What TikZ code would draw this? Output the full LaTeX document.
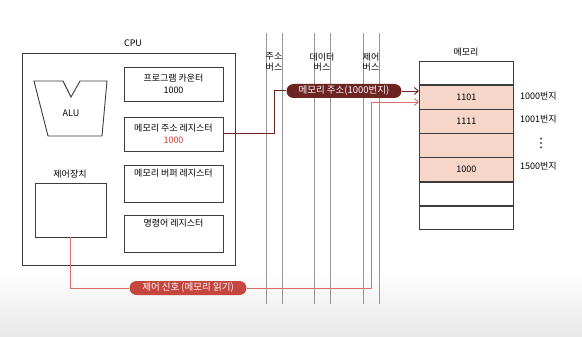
\documentclass[tikz,border=0pt]{standalone}
\usepackage{fontspec}
\setmainfont{Noto Sans CJK KR}
\newfontfamily\djv{DejaVu Sans}
\usetikzlibrary{arrows.meta}
\definecolor{boxline}{RGB}{60,60,60}
\definecolor{busgray}{RGB}{150,150,150}
\definecolor{pinkfill}{RGB}{245,214,200}
\definecolor{darkred}{RGB}{110,35,35}
\definecolor{sigred}{RGB}{196,70,62}
\definecolor{sigline}{RGB}{214,110,105}
\definecolor{numred}{RGB}{210,60,55}
\begin{document}
\begin{tikzpicture}[x=1pt,y=-1pt,
  lbl/.style={font=\fontsize{9}{10.5}\selectfont, inner sep=0pt, align=center},
  regbox/.style={draw=boxline, line width=0.8pt, minimum width=99pt, minimum height=34pt, align=center, font=\fontsize{9}{12.5}\selectfont},
  membox/.style={draw=boxline, line width=0.6pt, minimum width=94pt, minimum height=23.5pt, inner sep=0pt, font=\fontsize{9}{10}\selectfont},
  memfill/.style={membox, fill=pinkfill},
  bus/.style={draw=busgray, line width=1pt},
  pill/.style={rounded corners=7pt, minimum height=14pt, inner sep=2pt, text=white, font=\fontsize{9.5}{10}\selectfont},
  tip/.style={-{Straight Barb[length=4pt,width=7pt]}}
]
\useasboundingbox (0,0) rectangle (582,337);
\fill[white] (0,0) rectangle (582,337);
\shade[top color=white, bottom color=black!9] (0,270) rectangle (582,337);

% CPU
\node[lbl] (cpulbl) at (133,43) {CPU};
\node[draw=boxline, line width=0.9pt, minimum width=213pt, minimum height=212pt, anchor=north west, inner sep=0pt] (cpu) at (22,53) {};

% ALU
\draw[boxline, line width=0.9pt] (34,81) -- (63,81) -- (71,97) -- (80,81) -- (107,81) -- (102,136) -- (48,136) -- cycle;
\node[lbl] (alu) at (71,113) {ALU};

% registers
\node[regbox] (pc) at (173.5,84) {프로그램 카운터\\1000};
\node[regbox] (mar) at (173.5,134) {메모리 주소 레지스터\\\textcolor{numred}{1000}};
\node[regbox] (mbr) at (173.5,184) {메모리 버퍼 레지스터\\[10pt]};
\node[regbox] (ir) at (173.5,234) {명령어 레지스터\\[10pt]};

% control unit
\node[lbl] (ctrllbl) at (70,174) {제어장치};
\node[draw=boxline, line width=0.9pt, minimum width=71pt, minimum height=54pt, inner sep=0pt] (ctrl) at (70.5,210) {};

% buses
\foreach \x in {266,282,314,330,363,379}{
  \draw[bus] (\x,33) -- (\x,304);
}
\node[lbl] (abus) at (274,62) {주소\\버스};
\node[lbl] (dbus) at (322,62) {데이터\\버스};
\node[lbl] (cbus) at (371,62) {제어\\버스};

% memory
\node[lbl] (memlbl) at (466,52) {메모리};
\node[membox, anchor=north west] (m1) at (419,61) {};
\node[memfill, anchor=north] (m2) at (m1.south) {1101};
\node[memfill, anchor=north] (m3) at (m2.south) {1111};
\node[memfill, anchor=north] (m4) at (m3.south) {};
\node[memfill, anchor=north] (m5) at (m4.south) {1000};
\node[membox, anchor=north] (m6) at (m5.south) {};
\node[membox, anchor=north] (m7) at (m6.south) {};
\node[lbl, anchor=west] (a1) at (520,96) {1000번지};
\node[lbl, anchor=west] (a2) at (520,119.5) {1001번지};
\node[lbl, font=\djv\fontsize{13}{14}\selectfont] (a3) at (541,143) {⋮};
\node[lbl, anchor=west] (a4) at (520,166.5) {1500번지};

% address path
\node[pill, fill=darkred, minimum width=115pt] (addr) at (344,91) {메모리 주소(1000번지)};
\coordinate (addrin) at (419,91);
\draw[darkred, line width=1pt] (mar.east) -- (274,134) |- (addr.west);
\draw[darkred, line width=0.9pt, tip] (addr.east) -- (addrin);

% control signal path
\node[pill, fill=sigred, minimum width=117pt] (sig) at (188,288) {제어 신호 (메모리 읽기)};
\coordinate (sigcorner) at (371,288);
\coordinate (sigin) at (419,102);
\draw[sigline, line width=0.9pt] (ctrl.south) |- (sig.west);
\draw[sigline, line width=0.9pt, tip] (sig.east) -- (sigcorner) |- (sigin);
\end{tikzpicture}
\end{document}
